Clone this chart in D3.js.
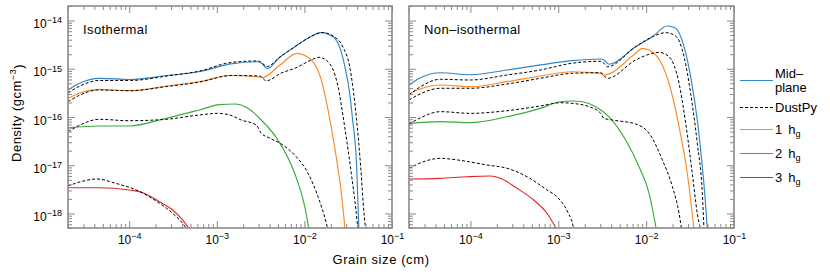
<!DOCTYPE html>
<html>
<head>
<meta charset="utf-8">
<script src="https://cdn.jsdelivr.net/npm/d3@7"></script>
<style>
body { margin: 0; background: #fff; }
svg { display: block; font-family: "Liberation Sans", Arial, sans-serif; }
</style>
</head>
<body>
<svg id="chart" width="830" height="274"></svg>
<script>
// grain size (cm) / density (g cm^-3)

// isothermal panel
var isoMid = [[2.0e-5,3.63e-16],[2.74e-5,5.07e-16],[4.52e-5,6.34e-16],[1.02e-4,5.98e-16],[2.70e-4,7.25e-16],[6.43e-4,8.77e-16],[1.45e-3,1.26e-15],[2.95e-3,1.40e-15],[3.28e-3,1.29e-15],[3.74e-3,1.01e-15],[5.26e-3,1.75e-15],[7.8e-3,2.87e-15],[1.16e-2,4.55e-15],[1.55e-2,5.60e-15],[1.96e-2,5.01e-15],[2.42e-2,3.37e-15],[2.90e-2,1.10e-15],[3.31e-2,2.86e-16],[3.52e-2,1.01e-16],[3.95e-2,9.33e-18],[4.12e-2,1.01e-18],[4.20e-2,4.5e-19]];
var isoMidDust = [[2.0e-5,3.15e-16],[2.74e-5,4.40e-16],[4.52e-5,5.71e-16],[1.02e-4,5.71e-16],[2.70e-4,7.08e-16],[6.43e-4,8.99e-16],[1.45e-3,1.35e-15],[2.95e-3,1.45e-15],[3.28e-3,1.32e-15],[3.74e-3,1.11e-15],[5.26e-3,1.75e-15],[7.8e-3,2.87e-15],[1.16e-2,4.55e-15],[1.59e-2,5.65e-15],[2.12e-2,4.78e-15],[2.75e-2,2.82e-15],[3.29e-2,1.10e-15],[3.91e-2,1.01e-16],[4.39e-2,9.33e-18],[4.79e-2,1.01e-18],[5.0e-2,4.5e-19]];
var isoOne = [[2.0e-5,2.44e-16],[2.74e-5,3.15e-16],[4.52e-5,3.75e-16],[1.02e-4,3.51e-16],[2.70e-4,4.40e-16],[6.43e-4,5.45e-16],[1.45e-3,7.25e-16],[3.11e-3,6.75e-16],[3.28e-3,6.53e-16],[5.26e-3,1.20e-15],[8.24e-3,2.09e-15],[1.20e-2,1.52e-15],[1.56e-2,5.85e-16],[1.86e-2,1.40e-16],[2.21e-2,2.42e-17],[2.64e-2,2.62e-18],[2.92e-2,4.5e-19]];
var isoOneDust = [[2.0e-5,2.07e-16],[2.74e-5,2.86e-16],[4.52e-5,3.63e-16],[1.02e-4,3.51e-16],[2.70e-4,4.29e-16],[6.43e-4,5.32e-16],[1.45e-3,7.25e-16],[3.08e-3,7.08e-16],[3.67e-3,5.65e-16],[5.45e-3,8.17e-16],[7.74e-3,1.02e-15],[1.20e-2,1.52e-15],[1.46e-2,1.73e-15],[1.86e-2,1.40e-15],[2.42e-2,4.25e-16],[2.88e-2,6.30e-17],[3.43e-2,6.81e-18],[3.91e-2,1.01e-18],[4.09e-2,4.5e-19]];
var isoTwo = [[2.0e-5,6.0e-17],[4.55e-5,6.50e-17],[1.0e-4,6.50e-17],[2.63e-4,9.4e-17],[6.31e-4,1.40e-16],[1.07e-3,1.80e-16],[1.60e-3,1.86e-16],[2.27e-3,1.51e-16],[3.22e-3,8.67e-17],[4.99e-3,3.33e-17],[7.74e-3,6.81e-18],[1.01e-2,1.38e-18],[1.13e-2,4.5e-19]];
var isoTwoDust = [[2.0e-5,4.95e-17],[2.74e-5,6.82e-17],[4.55e-5,8.95e-17],[1.0e-4,8.38e-17],[2.63e-4,8.95e-17],[6.31e-4,1.10e-16],[1.02e-3,1.19e-16],[1.45e-3,1.08e-16],[1.90e-3,8.67e-17],[2.82e-3,6.82e-17],[3.22e-3,4.59e-17],[3.84e-3,3.79e-17],[5.45e-3,2.75e-17],[7.74e-3,1.63e-17],[1.10e-2,6.81e-18],[1.43e-2,2.23e-18],[1.78e-2,6.25e-19],[1.86e-2,4.5e-19]];
var isoThree = [[2.0e-5,3.42e-18],[4.55e-5,3.42e-18],[1.0e-4,3.07e-18],[1.43e-4,2.70e-18],[2.21e-4,1.75e-18],[3.13e-4,1.18e-18],[4.07e-4,7.33e-19],[4.94e-4,4.5e-19]];
var isoThreeDust = [[2.0e-5,3.72e-18],[2.74e-5,4.50e-18],[4.26e-5,5.19e-18],[7.07e-5,4.2e-18],[1.33e-4,2.83e-18],[2.21e-4,1.63e-18],[3.13e-4,1.01e-18],[4.07e-4,6.25e-19],[4.65e-4,4.5e-19]];

// non-isothermal panel
var nonMid = [[2.0e-5,4.61e-16],[2.67e-5,6.43e-16],[4.54e-5,8.28e-16],[9.97e-5,7.53e-16],[2.61e-4,9.42e-16],[6.24e-4,1.20e-15],[1.43e-3,1.47e-15],[3.04e-3,1.59e-15],[3.31e-3,1.52e-15],[3.78e-3,1.24e-15],[7.60e-3,2.87e-15],[1.18e-2,4.62e-15],[1.74e-2,7.69e-15],[2.17e-2,6.90e-15],[2.70e-2,2.87e-15],[3.21e-2,6.84e-16],[3.82e-2,8.67e-17],[4.36e-2,9.33e-18],[4.77e-2,1.38e-18],[4.97e-2,4.5e-19]];
var nonMidDust = [[2.0e-5,2.86e-16],[2.67e-5,4.19e-16],[4.54e-5,6.05e-16],[9.97e-5,5.85e-16],[2.61e-4,7.43e-16],[6.24e-4,9.42e-16],[1.43e-3,1.30e-15],[3.04e-3,1.43e-15],[3.31e-3,1.30e-15],[3.61e-3,1.10e-15],[7.60e-3,2.87e-15],[1.18e-2,4.62e-15],[1.67e-2,5.60e-15],[2.17e-2,4.78e-15],[2.70e-2,1.78e-15],[3.21e-2,3.10e-16],[3.82e-2,2.85e-17],[4.36e-2,2.62e-18],[4.56e-2,4.5e-19]];
var nonOne = [[2.0e-5,3.00e-16],[2.67e-5,3.80e-16],[4.54e-5,4.61e-16],[9.97e-5,4.25e-16],[2.61e-4,5.40e-16],[6.24e-4,7.08e-16],[1.43e-3,8.69e-16],[3.04e-3,8.0e-16],[3.31e-3,7.43e-16],[7.60e-3,2.09e-15],[9.04e-3,2.65e-15],[1.29e-2,1.93e-15],[1.82e-2,5.0e-16],[2.37e-2,6.30e-17],[2.94e-2,6.81e-18],[3.51e-2,4.5e-19]];
var nonOneDust = [[2.0e-5,2.25e-16],[2.67e-5,3.00e-16],[4.54e-5,3.94e-16],[9.97e-5,3.94e-16],[2.61e-4,4.83e-16],[6.24e-4,6.34e-16],[1.43e-3,8.05e-16],[3.04e-3,8.28e-16],[3.61e-3,6.34e-16],[7.60e-3,1.52e-15],[1.18e-2,2.09e-15],[1.40e-2,2.19e-15],[1.82e-2,1.78e-15],[2.37e-2,5.0e-16],[2.82e-2,7.40e-17],[3.35e-2,6.81e-18],[3.82e-2,1.01e-18],[4.18e-2,4.5e-19]];
var nonTwo = [[2.0e-5,7.40e-17],[4.54e-5,8.0e-17],[9.97e-5,7.62e-17],[2.61e-4,1.01e-16],[6.24e-4,1.51e-16],[1.05e-3,2.07e-16],[1.43e-3,2.15e-16],[1.88e-3,2.07e-16],[2.67e-3,1.64e-16],[3.78e-3,1.01e-16],[5.85e-3,3.33e-17],[8.30e-3,9.33e-18],[1.08e-2,2.62e-18],[1.31e-2,4.5e-19]];
var nonTwoDust = [[2.0e-5,7.16e-17],[2.67e-5,9.53e-17],[4.54e-5,1.29e-16],[9.97e-5,1.19e-16],[2.61e-4,1.35e-16],[6.24e-4,1.69e-16],[1.05e-3,1.98e-16],[1.43e-3,1.92e-16],[2.24e-3,1.64e-16],[3.04e-3,1.19e-16],[3.31e-3,9.40e-17],[4.12e-3,8.67e-17],[7.60e-3,7.16e-17],[1.08e-2,4.59e-17],[1.53e-2,1.29e-17],[1.99e-2,3.59e-18],[2.37e-2,1.01e-18],[2.54e-2,4.5e-19]];
var nonThree = [[2.0e-5,5.19e-18],[4.54e-5,5.36e-18],[9.14e-5,5.78e-18],[1.68e-4,5.98e-18],[2.19e-4,5.36e-18],[3.39e-4,3.33e-18],[5.25e-4,1.90e-18],[7.44e-4,1.01e-18],[9.68e-4,4.5e-19]];
var nonThreeDust = [[2.0e-5,8.65e-18],[2.67e-5,1.11e-17],[4.54e-5,1.39e-17],[7.03e-5,1.29e-17],[1.55e-4,1.01e-17],[2.61e-4,8.65e-18],[4.41e-4,5.78e-18],[7.44e-4,3.07e-18],[1.0e-3,2.09e-18],[1.30e-3,1.01e-18],[1.48e-3,5.3e-19],[1.52e-3,4.0e-19]];

var xDomain = [2e-5, 1e-1];
var yDomain = [5e-19, 2e-14];
var xMajor = [1e-4, 1e-3, 1e-2, 1e-1];
var yMajor = [1e-18, 1e-17, 1e-16, 1e-15, 1e-14];

var legendLabels = ['Mid-plane', 'DustPy', '1', '2', '3'];

var colors = { mid: '#2f86c8', one: '#fd8b25', two: '#3aab3a', three: '#e0282a', dust: '#000' };

var panels = [
    { title: 'Isothermal', left: 68, right: 392, yLabels: true,
      series: [
        { data: isoMid, key: 'mid' }, { data: isoOne, key: 'one' }, { data: isoTwo, key: 'two' }, { data: isoThree, key: 'three' },
        { data: isoMidDust, key: 'dust' }, { data: isoOneDust, key: 'dust' }, { data: isoTwoDust, key: 'dust' }, { data: isoThreeDust, key: 'dust' }
      ] },
    { title: 'Non\u2013isothermal', left: 409, right: 734, yLabels: false,
      series: [
        { data: nonMid, key: 'mid' }, { data: nonOne, key: 'one' }, { data: nonTwo, key: 'two' }, { data: nonThree, key: 'three' },
        { data: nonMidDust, key: 'dust' }, { data: nonOneDust, key: 'dust' }, { data: nonTwoDust, key: 'dust' }, { data: nonThreeDust, key: 'dust' }
      ] }
];

var plotTop = 6, plotBottom = 228;
var frameColor = '#8a8a8a';
var svg = d3.select('#chart');

function powerLabel(sel) {
    sel.each(function(d) {
        var t = d3.select(this), e = Math.round(Math.log10(d));
        t.text(null);
        t.append('tspan').text('10');
        t.append('tspan').attr('dy', '-0.55em').attr('font-size', 9).text('\u2212' + Math.abs(e));
    });
}

function styleAxis(g) {
    g.select('.domain').remove();
    g.selectAll('line').attr('stroke', frameColor);
    g.attr('font-family', null).attr('font-size', 12);
    g.selectAll('text').attr('fill', '#000');
}

panels.forEach(function(p, i) {
    var x = d3.scaleLog().domain(xDomain).range([p.left, p.right]);
    var y = d3.scaleLog().domain(yDomain).range([plotBottom, plotTop]);
    var xMinor = x.ticks().filter(function(v) { return xMajor.indexOf(v) < 0; });
    var yMinor = y.ticks().filter(function(v) { return yMajor.indexOf(v) < 0; });
    var g = svg.append('g');

    g.append('clipPath').attr('id', 'clip' + i)
        .append('rect')
        .attr('x', p.left).attr('y', plotTop)
        .attr('width', p.right - p.left).attr('height', plotBottom - plotTop);

    var line = d3.line()
        .x(function(d) { return x(d[0]); })
        .y(function(d) { return y(d[1]); })
        .curve(d3.curveMonotoneX);

    g.append('g').attr('clip-path', 'url(#clip' + i + ')')
        .selectAll('path')
        .data(p.series)
        .enter().append('path')
        .attr('d', function(s) { return line(s.data); })
        .attr('fill', 'none')
        .attr('stroke', function(s) { return colors[s.key]; })
        .attr('stroke-width', function(s) { return s.key === 'dust' ? 1 : 1.15; })
        .attr('stroke-dasharray', function(s) { return s.key === 'dust' ? '3,2' : null; });

    // ticks, all pointing inward
    g.append('g').attr('transform', 'translate(0,' + plotBottom + ')')
        .call(d3.axisBottom(x).tickValues(xMajor).tickSize(-7).tickPadding(7).tickFormat(function() { return ''; }))
        .call(styleAxis)
        .call(function(a) { a.selectAll('text').call(powerLabel); });
    g.append('g').attr('transform', 'translate(0,' + plotBottom + ')')
        .call(d3.axisBottom(x).tickValues(xMinor).tickSize(-4).tickFormat(''))
        .call(styleAxis);
    g.append('g').attr('transform', 'translate(0,' + plotTop + ')')
        .call(d3.axisTop(x).tickValues(xMajor).tickSize(-7).tickFormat(''))
        .call(styleAxis);
    g.append('g').attr('transform', 'translate(0,' + plotTop + ')')
        .call(d3.axisTop(x).tickValues(xMinor).tickSize(-4).tickFormat(''))
        .call(styleAxis);

    var yl = g.append('g').attr('transform', 'translate(' + p.left + ',0)')
        .call(d3.axisLeft(y).tickValues(yMajor).tickSize(-7).tickPadding(6).tickFormat(function() { return ''; }))
        .call(styleAxis);
    if (p.yLabels) yl.selectAll('text').attr('dy', '0.6em').call(powerLabel);
    else yl.selectAll('text').remove();
    g.append('g').attr('transform', 'translate(' + p.left + ',0)')
        .call(d3.axisLeft(y).tickValues(yMinor).tickSize(-4).tickFormat(''))
        .call(styleAxis);
    g.append('g').attr('transform', 'translate(' + p.right + ',0)')
        .call(d3.axisRight(y).tickValues(yMajor).tickSize(-7).tickFormat(''))
        .call(styleAxis);
    g.append('g').attr('transform', 'translate(' + p.right + ',0)')
        .call(d3.axisRight(y).tickValues(yMinor).tickSize(-4).tickFormat(''))
        .call(styleAxis);

    g.append('rect')
        .attr('x', p.left).attr('y', plotTop)
        .attr('width', p.right - p.left).attr('height', plotBottom - plotTop)
        .attr('fill', 'none')
        .attr('stroke', frameColor)
        .attr('stroke-width', 1.6);

    g.append('text')
        .attr('x', p.left + 15).attr('y', 34)
        .attr('font-size', 13).attr('letter-spacing', 0.4)
        .text(p.title);
});

// axis titles
svg.append('text')
    .attr('transform', 'translate(21,113) rotate(-90)')
    .attr('text-anchor', 'middle')
    .attr('font-size', 13).attr('letter-spacing', 0.5)
    .call(function(t) {
        t.append('tspan').text('Density (gcm');
        t.append('tspan').attr('dy', '-0.55em').attr('font-size', 9).text('\u22123');
        t.append('tspan').attr('dy', '0.55em').text(')');
    });

svg.append('text')
    .attr('x', 381).attr('y', 264)
    .attr('text-anchor', 'middle')
    .attr('font-size', 13).attr('letter-spacing', 0.6)
    .text('Grain size (cm)');

// legend
var legendY = [80.5, 107.5, 129.5, 153.5, 177.5];
var legendKeys = ['mid', 'dust', 'one', 'two', 'three'];
var legend = svg.append('g').attr('font-size', 13);

legend.selectAll('line')
    .data(legendKeys)
    .enter().append('line')
    .attr('x1', 740).attr('x2', 773)
    .attr('y1', function(d, i) { return legendY[i]; })
    .attr('y2', function(d, i) { return legendY[i]; })
    .attr('stroke', function(d) { return colors[d]; })
    .attr('stroke-width', 1.1)
    .attr('stroke-dasharray', function(d) { return d === 'dust' ? '3,2' : null; });

legendLabels.forEach(function(lab, i) {
    var t = legend.append('text').attr('x', 775).attr('y', legendY[i]);
    if (i === 0) {
        t.attr('dy', '-0.2em').text('Mid\u2013');
        legend.append('text').attr('x', 775).attr('y', legendY[i]).attr('dy', '0.85em').text('plane');
    } else if (i === 1) {
        t.attr('dy', '0.35em').text(lab);
    } else {
        t.attr('dy', '0.35em');
        t.append('tspan').text(lab);
        t.append('tspan').attr('dx', 6).text('h');
        t.append('tspan').attr('dy', '0.35em').attr('font-size', 9).text('g');
    }
});
</script>
</body>
</html>
